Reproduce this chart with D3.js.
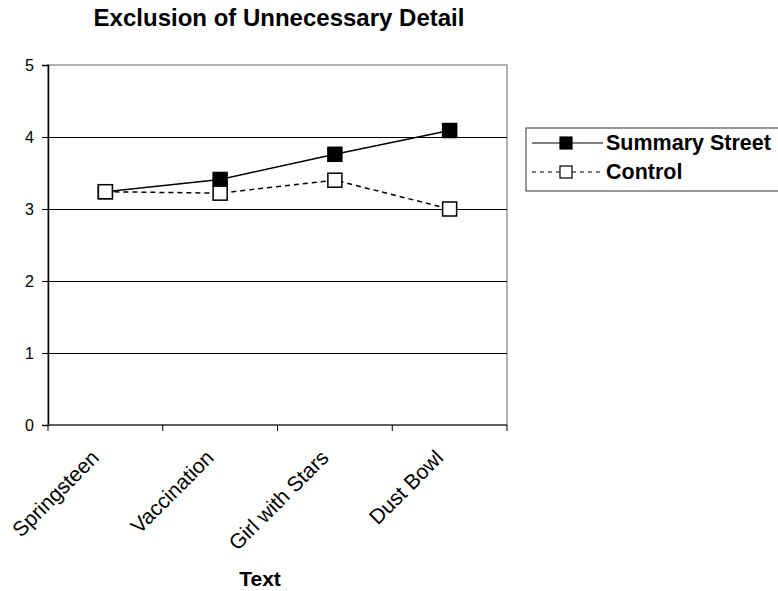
<!DOCTYPE html>
<html>
<head>
<meta charset="utf-8">
<script src="https://cdn.jsdelivr.net/npm/d3@7"></script>
<style>
  body { margin: 0; background: #fff; }
  text { font-family: "Liberation Sans", Arial, sans-serif; }
</style>
</head>
<body>
<script>
var width = 778;
var height = 591;

// data
var texts = ["Springsteen", "Vaccination", "Girl with Stars", "Dust Bowl"];
var summaryStreet = [3.24, 3.41, 3.76, 4.09];
var control = [3.24, 3.22, 3.40, 3.00];
var yTicks = [0, 1, 2, 3, 4, 5];

var margin = { left: 48, top: 65, right: 271, bottom: 166 };

var svg = d3.select("body")
    .append("svg")
    .attr("width", width)
    .attr("height", height);

var x = d3.scaleBand()
    .domain(texts)
    .range([margin.left, width - margin.right]);

var y = d3.scaleLinear()
    .domain([0, 5])
    .range([height - margin.bottom, margin.top]);

var g = svg.append("g");

// plot frame (grey top and right)
g.append("rect")
    .attr("x", x.range()[0])
    .attr("y", y(5))
    .attr("width", x.range()[1] - x.range()[0])
    .attr("height", y(0) - y(5))
    .attr("fill", "none")
    .attr("stroke", "#999")
    .attr("stroke-width", 1.5);

// gridlines
g.selectAll(".grid")
    .data(yTicks.filter(function(d) { return d > 0 && d < 5; }))
    .enter()
    .append("line")
    .attr("x1", x.range()[0])
    .attr("x2", x.range()[1])
    .attr("y1", function(d) { return Math.round(y(d)) + 0.5; })
    .attr("y2", function(d) { return Math.round(y(d)) + 0.5; })
    .attr("stroke", "#000")
    .attr("stroke-width", 1);

// y axis
var yAxis = d3.axisLeft(y)
    .tickValues(yTicks)
    .tickFormat(d3.format("d"))
    .tickSize(6)
    .tickPadding(8);
var yg = svg.append("g")
    .attr("transform", "translate(" + margin.left + ",0)")
    .call(yAxis);
yg.select(".domain").attr("stroke", "#000").attr("stroke-width", 1.5);
yg.selectAll(".tick line").attr("stroke", "#000");
yg.selectAll(".tick text")
    .attr("font-size", null)
    .style("font-size", "16px")
    .style("font-family", "'Liberation Sans', Arial, sans-serif")
    .attr("fill", "#000");

// x axis: tick marks at band edges
var xEdges = texts.map(function(t) { return x(t); }).concat([x.range()[1]]);
var xg = svg.append("g");
xg.append("line")
    .attr("x1", x.range()[0])
    .attr("x2", x.range()[1])
    .attr("y1", y(0))
    .attr("y2", y(0))
    .attr("stroke", "#444")
    .attr("stroke-width", 1.5);
xg.selectAll(".xt")
    .data(xEdges)
    .enter()
    .append("line")
    .attr("x1", function(d) { return d; })
    .attr("x2", function(d) { return d; })
    .attr("y1", y(0))
    .attr("y2", y(0) + 6)
    .attr("stroke", "#000");

xg.selectAll(".xl")
    .data(texts)
    .enter()
    .append("text")
    .attr("text-anchor", "end")
    .style("font-size", "21px")
    .attr("transform", function(d) {
        var cx = x(d) + x.bandwidth() / 2;
        return "translate(" + (cx - 5) + "," + (y(0) + 34) + ") rotate(-45)";
    })
    .text(function(d) { return d; });

// lines
var line = function(vals) {
    return d3.line()
        .x(function(d, i) { return x(texts[i]) + x.bandwidth() / 2; })
        .y(function(d) { return y(d); })(vals);
};

g.append("path")
    .attr("d", line(summaryStreet))
    .attr("fill", "none")
    .attr("stroke", "#000")
    .attr("stroke-width", 1.5);

g.append("path")
    .attr("d", line(control))
    .attr("fill", "none")
    .attr("stroke", "#000")
    .attr("stroke-width", 1.5)
    .attr("stroke-dasharray", "5,4");

var ms = 14;
g.selectAll(".ss")
    .data(summaryStreet)
    .enter()
    .append("rect")
    .attr("x", function(d, i) { return x(texts[i]) + x.bandwidth() / 2 - ms / 2; })
    .attr("y", function(d) { return y(d) - ms / 2; })
    .attr("width", ms)
    .attr("height", ms)
    .attr("fill", "#000")
    .attr("stroke", "#000")
    .attr("stroke-width", 1.5);

g.selectAll(".ct")
    .data(control)
    .enter()
    .append("rect")
    .attr("x", function(d, i) { return x(texts[i]) + x.bandwidth() / 2 - ms / 2; })
    .attr("y", function(d) { return y(d) - ms / 2; })
    .attr("width", ms)
    .attr("height", ms)
    .attr("fill", "#fff")
    .attr("stroke", "#000")
    .attr("stroke-width", 1.5);

// title and axis title
svg.append("text")
    .attr("x", 279)
    .attr("y", 26)
    .attr("text-anchor", "middle")
    .style("font-size", "24px")
    .style("font-weight", "bold")
    .text("Exclusion of Unnecessary Detail");

svg.append("text")
    .attr("x", 260)
    .attr("y", 586)
    .attr("text-anchor", "middle")
    .style("font-size", "21px")
    .style("font-weight", "bold")
    .text("Text");

// legend
var legend = svg.append("g");
legend.append("rect")
    .attr("x", 526)
    .attr("y", 128)
    .attr("width", 260)
    .attr("height", 63)
    .attr("fill", "#fff")
    .attr("stroke", "#333")
    .attr("stroke-width", 1);

var legendItems = [
    { name: "Summary Street", fill: "#000", dash: null, y: 143 },
    { name: "Control", fill: "#fff", dash: "4,4", y: 172 }
];
var li = legend.selectAll(".li")
    .data(legendItems)
    .enter()
    .append("g");
li.append("line")
    .attr("x1", 532)
    .attr("x2", 603)
    .attr("y1", function(d) { return d.y; })
    .attr("y2", function(d) { return d.y; })
    .attr("stroke", "#000")
    .attr("stroke-width", 1.2)
    .attr("stroke-dasharray", function(d) { return d.dash; });
li.append("rect")
    .attr("x", 560)
    .attr("y", function(d) { return d.y - 6; })
    .attr("width", 12)
    .attr("height", 12)
    .attr("fill", function(d) { return d.fill; })
    .attr("stroke", "#000")
    .attr("stroke-width", 1.2);
li.append("text")
    .attr("x", 606)
    .attr("y", function(d) { return d.y + 7; })
    .style("font-size", "21.5px")
    .style("font-weight", "bold")
    .text(function(d) { return d.name; });
</script>
</body>
</html>
